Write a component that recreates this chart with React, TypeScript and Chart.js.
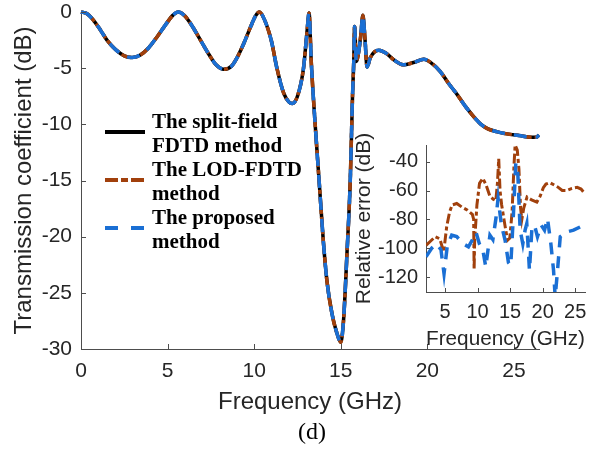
import React, { useEffect, useRef } from 'react';
import { Chart, registerables } from 'chart.js';

Chart.register(...registerables);

const W = 597;
const H = 452;
const SANS = '"Liberation Sans", Arial, Helvetica, sans-serif';
const SERIF = '"Liberation Serif", "Times New Roman", serif';
const TEXT = '#262626';
const AXIS = '#4d4d4d';
const BLACK = '#000000';
const BROWN = '#A1400C';
const BLUE = '#1A6FD4';

// ---- Main plot: transmission coefficient (dB) vs frequency (GHz)
const mainFreq = [
  0, 0.35, 0.7, 1.1, 1.5, 2.0, 2.5, 2.95, 3.4, 3.9,
  4.4, 4.9, 5.3, 5.62, 6.0, 6.4, 6.9, 7.4, 7.8, 8.25,
  8.7, 9.0, 9.4, 9.8, 10.1, 10.3, 10.6, 11.0, 11.3, 11.7,
  12.0, 12.2, 12.5, 12.85, 13.05, 13.17, 13.3, 13.5, 13.75, 14.0,
  14.2, 14.5, 14.78, 15.0, 15.16, 15.36, 15.55, 15.68, 15.75, 15.8,
  15.9, 16.05, 16.15, 16.28, 16.4, 16.52, 16.7, 16.95, 17.2, 17.6,
  18.1, 18.6, 19.2, 19.8, 20.2, 20.75, 21.2, 21.7, 22.2, 22.7,
  23.1, 23.5, 24.0, 24.6, 25.3, 26.0, 26.3, 26.45,
];
const splitFieldDb = [
  0, -0.15, -0.7, -1.55, -2.5, -3.35, -3.9, -4.05, -3.85, -3.2,
  -2.2, -1.1, -0.3, 0, -0.35, -1.2, -2.5, -3.8, -4.7, -5.1,
  -4.8, -4.1, -2.8, -1.3, -0.3, 0, -0.7, -2.6, -4.9, -7.2,
  -8.0, -8.15, -7.5, -5.0, -1.8, -0.1, -4.5, -9.5, -15.0, -20.5,
  -23.9, -26.9, -28.6, -29.4, -27.5, -21.5, -15.0, -7.5, -4.5, -1.3,
  -4.4, -3.4, -2.2, -0.3, -2.4, -4.9, -4.1, -3.55, -3.4, -3.65,
  -4.3, -4.7, -4.5, -4.2, -4.5, -5.3, -6.3, -7.3, -8.4, -9.35,
  -10.0, -10.4, -10.65, -10.85, -11.0, -11.15, -11.15, -10.95,
];
// the three methods coincide at the scale of the main plot
const lodFdtdDb = [...splitFieldDb];
const proposedDb = [...splitFieldDb];

const mainXTicks = [0, 5, 10, 15, 20, 25];
const mainYTicks = [0, -5, -10, -15, -20, -25, -30];

// ---- Inset: relative error (dB)
const lodErrFreq = [
  2.08, 2.8, 3.5, 4.2, 4.8, 5.26, 5.7, 6.1, 6.8, 7.6,
  8.4, 9.2, 9.4, 9.47, 9.55, 9.9, 10.3, 10.8, 11.3, 11.9,
  12.4, 12.8, 13.05, 13.25, 13.45, 13.7, 14.2, 14.6, 14.95, 15.3,
  15.6, 15.77, 16.1, 16.35, 16.6, 16.8, 17.1, 17.6, 18.3, 19.1,
  19.6, 20.1, 20.5, 21.1, 21.7, 22.3, 23.0, 23.7, 24.5, 25.3,
  25.9, 26.45,
];
const lodErrDb = [
  -98, -95, -92, -93.5, -102.6, -85, -75, -70, -69, -71.5,
  -73.5, -76.5, -80, -115, -95, -70, -55, -51.5, -56, -64,
  -66, -67, -55, -38, -60, -70, -84, -94.5, -93, -75,
  -42, -28.4, -32, -45, -72, -80, -72, -64.5, -66.5, -68,
  -64, -58, -55.5, -54.5, -56, -57.5, -60, -60, -58.5, -57.8,
  -59, -62,
];
const propErrFreq = [
  2.08, 2.95, 3.7, 4.38, 4.85, 5.36, 6.03, 6.8, 7.82, 8.6,
  9.36, 9.77, 10.28, 10.8, 11.26, 11.9, 12.35, 12.8, 13.15, 13.67,
  14.23, 14.74, 15.1, 15.51, 15.87, 16.18, 16.54, 16.95, 17.3, 17.56,
  17.97, 18.33, 18.74, 19.2, 19.77, 20.28, 20.74, 21.26, 21.67, 21.92,
  22.28, 22.7, 23.7, 24.74, 25.77, 26.45,
];
const propErrDb = [
  -106, -100, -97, -101, -117.7, -98, -91, -92, -97, -99,
  -93, -89, -97, -101, -113, -91, -94, -80, -65.5, -84,
  -94.5, -110, -112, -76, -41, -48, -87.5, -97, -87.5, -83,
  -115.4, -87.5, -84, -92, -84, -87.5, -79.4, -97, -115.4, -134,
  -115.4, -92, -88.7, -87.5, -85.2, -80.6,
];
const insetXTicks = [5, 10, 15, 20, 25];
const insetYTicks = [-40, -60, -80, -100, -120];

const legendLabels = [
  ['The split-field', 'FDTD method'],
  ['The LOD-FDTD', 'method'],
  ['The proposed', 'method'],
];
const caption = '(d)';

function pts(xs: number[], ys: number[]) {
  return xs.map((x, i) => ({ x, y: ys[i] }));
}

function fixedTicks(values: number[]) {
  return (scale: any) => {
    scale.ticks = values.map((v) => ({ value: v }));
  };
}

function innerTicksPlugin(len: number) {
  return {
    id: 'innerTicks',
    afterDraw(chart: any) {
      const { ctx, chartArea: a, scales } = chart;
      const x = scales.x;
      const y = scales.y;
      ctx.save();
      ctx.strokeStyle = AXIS;
      ctx.lineWidth = 1;
      ctx.beginPath();
      x.ticks.forEach((t: any) => {
        const px = Math.round(x.getPixelForValue(t.value)) + 0.5;
        ctx.moveTo(px, a.bottom);
        ctx.lineTo(px, a.bottom - len);
      });
      y.ticks.forEach((t: any) => {
        const py = Math.round(y.getPixelForValue(t.value)) + 0.5;
        ctx.moveTo(a.left, py);
        ctx.lineTo(a.left + len, py);
      });
      ctx.stroke();
      ctx.restore();
    },
  };
}

const legendPlugin = {
  id: 'customLegend',
  afterDraw(chart: any) {
    const { ctx, chartArea: a } = chart;
    const styles = [
      { color: BLACK, dash: [] as number[] },
      { color: BROWN, dash: [13, 3, 7, 3] },
      { color: BLUE, dash: [13, 13] },
    ];
    const x0 = a.left + 24;
    const x1 = a.left + 64;
    const tx = a.left + 71;
    ctx.save();
    legendLabels.forEach((lines, i) => {
      const cy = a.top + 120 + i * 48;
      ctx.beginPath();
      ctx.setLineDash(styles[i].dash);
      ctx.lineCap = 'butt';
      ctx.strokeStyle = styles[i].color;
      ctx.lineWidth = 4;
      ctx.moveTo(x0, cy);
      ctx.lineTo(x1, cy);
      ctx.stroke();
      ctx.setLineDash([]);
      ctx.fillStyle = '#000';
      ctx.font = `bold 21px ${SERIF}`;
      ctx.textAlign = 'left';
      ctx.textBaseline = 'alphabetic';
      lines.forEach((ln, j) => {
        ctx.fillText(ln, tx, cy - 4 + j * 24);
      });
    });
    ctx.font = `24px ${SERIF}`;
    ctx.textAlign = 'center';
    ctx.textBaseline = 'middle';
    ctx.fillStyle = '#000';
    ctx.fillText(caption, (a.left + a.right) / 2 + 2, 433);
    ctx.restore();
  },
};

function mainConfig(): any {
  return {
    type: 'line',
    data: {
      datasets: [
        {
          label: 'The proposed method',
          data: pts(mainFreq, proposedDb),
          borderColor: BLUE,
          borderWidth: 3.5,
          borderDash: [13, 9],
          cubicInterpolationMode: 'monotone',
          pointRadius: 0,
          fill: false,
          clip: 5,
        },
        {
          label: 'The LOD-FDTD method',
          data: pts(mainFreq, lodFdtdDb),
          borderColor: BROWN,
          borderWidth: 3.5,
          borderDash: [10, 3, 4, 3],
          cubicInterpolationMode: 'monotone',
          pointRadius: 0,
          fill: false,
          clip: 5,
        },
        {
          label: 'The split-field FDTD method',
          data: pts(mainFreq, splitFieldDb),
          borderColor: BLACK,
          borderWidth: 3.5,
          borderJoinStyle: 'round',
          cubicInterpolationMode: 'monotone',
          pointRadius: 0,
          fill: false,
          clip: 5,
        },
      ],
    },
    options: {
      animation: false,
      responsive: false,
      devicePixelRatio: 1,
      layout: { padding: { left: 0, right: 58, top: 12, bottom: 0 } },
      plugins: { legend: { display: false }, tooltip: { enabled: false }, title: { display: false } },
      events: [],
      scales: {
        x: {
          type: 'linear',
          min: 0,
          max: 26.45,
          grid: { display: false, drawTicks: false },
          border: { display: true, color: AXIS, width: 1 },
          afterBuildTicks: fixedTicks(mainXTicks),
          afterFit: (s: any) => {
            s.height = 103;
            s.paddingLeft = 0;
            s.paddingRight = 0;
          },
          ticks: {
            color: TEXT,
            font: { family: SANS, size: 21 },
            padding: 10,
            maxRotation: 0,
            autoSkip: false,
            callback: (v: any) => String(v),
          },
          title: {
            display: true,
            text: 'Frequency (GHz)',
            color: TEXT,
            font: { family: SANS, size: 24 },
            padding: { top: 0, bottom: 35.6 },
          },
        },
        y: {
          type: 'linear',
          min: -30,
          max: 0,
          grid: { display: false, drawTicks: false },
          border: { display: true, color: AXIS, width: 1 },
          afterBuildTicks: fixedTicks(mainYTicks),
          afterFit: (s: any) => {
            s.width = 81;
            s.paddingTop = 0;
            s.paddingBottom = 0;
          },
          ticks: {
            color: TEXT,
            font: { family: SANS, size: 21 },
            padding: 9,
            autoSkip: false,
            callback: (v: any) => String(v),
          },
          title: {
            display: true,
            text: 'Transmission coefficient (dB)',
            color: TEXT,
            font: { family: SANS, size: 24 },
            padding: { top: 9.6, bottom: 0 },
          },
        },
      },
    },
    plugins: [innerTicksPlugin(5), legendPlugin],
  };
}

function insetConfig(): any {
  return {
    type: 'line',
    data: {
      datasets: [
        {
          label: 'The proposed method',
          data: pts(propErrFreq, propErrDb),
          borderColor: BLUE,
          borderWidth: 3.5,
          borderDash: [12, 9],
          tension: 0,
          pointRadius: 0,
          fill: false,
        },
        {
          label: 'The LOD-FDTD method',
          data: pts(lodErrFreq, lodErrDb),
          borderColor: BROWN,
          borderWidth: 3,
          borderDash: [10, 3, 4, 3],
          tension: 0,
          pointRadius: 0,
          fill: false,
        },
      ],
    },
    options: {
      animation: false,
      responsive: false,
      devicePixelRatio: 1,
      layout: { padding: { left: 346, right: 12, top: 145, bottom: 100 } },
      plugins: { legend: { display: false }, tooltip: { enabled: false }, title: { display: false } },
      events: [],
      scales: {
        x: {
          type: 'linear',
          min: 2.08,
          max: 26.5,
          grid: { display: false, drawTicks: false },
          border: { display: true, color: AXIS, width: 1 },
          afterBuildTicks: fixedTicks(insetXTicks),
          afterFit: (s: any) => {
            s.height = 60;
            s.paddingLeft = 0;
            s.paddingRight = 0;
          },
          ticks: {
            color: TEXT,
            font: { family: SANS, size: 20 },
            padding: 8,
            maxRotation: 0,
            autoSkip: false,
            callback: (v: any) => String(v),
          },
          title: {
            display: true,
            text: 'Frequency (GHz)',
            color: TEXT,
            font: { family: SANS, size: 21 },
            padding: { top: 0, bottom: 0 },
          },
        },
        y: {
          type: 'linear',
          min: -130.4,
          max: -28.4,
          grid: { display: false, drawTicks: false },
          border: { display: true, color: AXIS, width: 1 },
          afterBuildTicks: fixedTicks(insetYTicks),
          afterFit: (s: any) => {
            s.width = 80;
            s.paddingTop = 0;
            s.paddingBottom = 0;
          },
          ticks: {
            color: TEXT,
            font: { family: SANS, size: 20 },
            padding: 8,
            autoSkip: false,
            callback: (v: any) => String(v),
          },
          title: {
            display: true,
            text: 'Relative error (dB)',
            color: TEXT,
            font: { family: SANS, size: 21 },
            padding: { top: 5.4, bottom: 0 },
          },
        },
      },
    },
    plugins: [innerTicksPlugin(4)],
  };
}

export default function App() {
  const mainRef = useRef<HTMLCanvasElement>(null);
  const insetRef = useRef<HTMLCanvasElement>(null);

  useEffect(() => {
    const main = new Chart(mainRef.current as HTMLCanvasElement, mainConfig());
    const inset = new Chart(insetRef.current as HTMLCanvasElement, insetConfig());
    return () => {
      main.destroy();
      inset.destroy();
    };
  }, []);

  return (
    <div style={{ position: 'absolute', left: 0, top: 0, width: W, height: H, background: '#ffffff' }}>
      <canvas ref={mainRef} width={W} height={H} style={{ position: 'absolute', left: 0, top: 0 }} />
      <canvas ref={insetRef} width={W} height={H} style={{ position: 'absolute', left: 0, top: 0 }} />
    </div>
  );
}
